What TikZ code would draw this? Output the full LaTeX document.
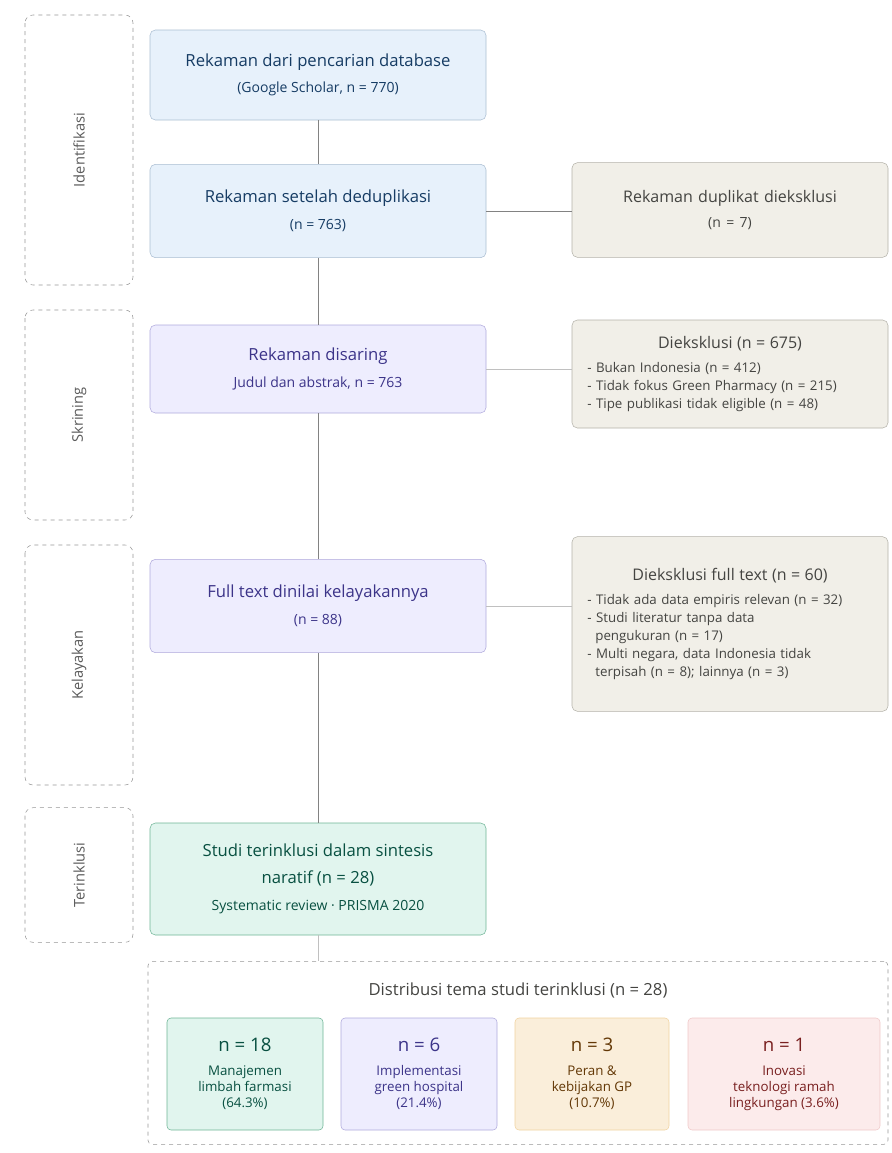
\documentclass[tikz,border=0pt]{standalone}
\usepackage{fontspec}
\setmainfont{Open Sans}
\usepackage{tikz}
\usetikzlibrary{positioning}
\definecolor{idfill}{RGB}{231,241,251}
\definecolor{idline}{RGB}{170,190,210}
\definecolor{idtext}{RGB}{22,60,100}
\definecolor{exfill}{RGB}{241,239,232}
\definecolor{exline}{RGB}{180,178,169}
\definecolor{extext}{RGB}{68,68,65}
\definecolor{scfill}{RGB}{238,237,254}
\definecolor{scline}{RGB}{175,169,220}
\definecolor{sctext}{RGB}{60,52,137}
\definecolor{infill}{RGB}{225,245,238}
\definecolor{inline}{RGB}{110,180,150}
\definecolor{intext}{RGB}{8,80,65}
\definecolor{orfill}{RGB}{250,238,218}
\definecolor{orline}{RGB}{240,210,160}
\definecolor{ortext}{RGB}{99,56,6}
\definecolor{rdfill}{RGB}{252,235,235}
\definecolor{rdline}{RGB}{240,200,200}
\definecolor{rdtext}{RGB}{121,31,31}
\definecolor{phaseline}{RGB}{150,150,150}
\definecolor{phasetext}{RGB}{90,90,90}
\definecolor{flow}{RGB}{130,130,130}
\newcommand{\subtxt}[1]{{\fontsize{10.5}{12}\selectfont #1}}

\begin{document}
\begin{tikzpicture}[x=0.75pt, y=-0.75pt,
        phase/.style={draw=phaseline, dashed, rounded corners=6pt, rotate=90, minimum height=81pt, font=\fontsize{11}{13}\selectfont, text=phasetext},
        stage/.style={draw=#1line, fill=#1fill, text=#1text, rounded corners=4pt, minimum width=252pt, align=center, font=\fontsize{12.5}{15}\selectfont},
        side/.style={draw=exline, fill=exfill, text=extext, rounded corners=4pt, minimum width=237pt, text width=214pt, font=\fontsize{10}{13.5}\selectfont},
        theme/.style={draw=#1line, fill=#1fill, text=#1text, rounded corners=3pt, minimum height=84pt, align=center, font=\fontsize{10}{12}\selectfont},
        flowline/.style={draw=flow, line width=0.6pt},
        sideline/.style={draw=flow!50, line width=0.6pt}
    ]
    \useasboundingbox (0,0) rectangle (892,1153);

    % phases
    \node (identifikasi) [phase, minimum width=202.5pt] at (79,150) {Identifikasi};
    \node (skrining) [phase, minimum width=157.5pt] at (79,415) {Skrining};
    \node (kelayakan) [phase, minimum width=180pt] at (79,665) {Kelayakan};
    \node (inklusi) [phase, minimum width=101pt] at (79,875) {Terinklusi};

    % main flow
    \node (records) [stage=id, minimum height=67.5pt] at (318,75) {Rekaman dari pencarian database\\[5pt]\subtxt{(Google Scholar, n = 770)}};
    \node (dedup) [stage=id, minimum height=70pt] at (318,211) {Rekaman setelah deduplikasi\\[5pt]\subtxt{(n = 763)}};
    \node (screened) [stage=sc, minimum height=66pt] at (318,369) {Rekaman disaring\\[5pt]\subtxt{Judul dan abstrak, n = 763}};
    \node (fulltext) [stage=sc, minimum height=70pt] at (318,606) {Full text dinilai kelayakannya\\[5pt]\subtxt{(n = 88)}};
    \node (included) [stage=in, minimum height=84pt] at (318,879) {Studi terinklusi dalam sintesis\\[5pt]naratif (n = 28)\\[5pt]\subtxt{Systematic review · PRISMA 2020}};

    % exclusions
    \node (duplicates) [side, minimum height=71pt, align=center, font=\fontsize{12}{14}\selectfont] at (730,210) {Rekaman duplikat dieksklusi\\[5pt]\subtxt{(n = 7)}};
    \node (excluded) [side, minimum height=81pt, align=left] at (730,374) {\centerline{\fontsize{12}{14}\selectfont Dieksklusi (n = 675)}\vspace{4pt}
        - Bukan Indonesia (n = 412)\\
        - Tidak fokus Green Pharmacy (n = 215)\\
        - Tipe publikasi tidak eligible (n = 48)};
    \node (ftexcluded) [side, minimum height=131pt, align=left] at (730,624) {\centerline{\fontsize{12}{14}\selectfont Dieksklusi full text (n = 60)}\vspace{4pt}
        - Tidak ada data empiris relevan (n = 32)\\
        - Studi literatur tanpa data\\
        \hspace*{0.6em}pengukuran (n = 17)\\
        - Multi negara, data Indonesia tidak\\
        \hspace*{0.6em}terpisah (n = 8); lainnya (n = 3)};

    % themes
    \node (themes) [draw=phaseline, dashed, rounded corners=3pt, minimum width=555pt, minimum height=137pt] at (518,1053) {};
    \node (themetitle) [text=extext, font=\fontsize{12.5}{15}\selectfont] at (518,990) {Distribusi tema studi terinklusi (n = 28)};
    \node (limbah) [theme=in, minimum width=117pt] at (245,1074) {{\fontsize{14}{16}\selectfont n = 18}\\[6pt]Manajemen\\limbah farmasi\\(64.3\%)};
    \node (hospital) [theme=sc, minimum width=117pt] at (419,1074) {{\fontsize{14}{16}\selectfont n = 6}\\[6pt]Implementasi\\green hospital\\(21.4\%)};
    \node (kebijakan) [theme=or, minimum width=115.5pt] at (592,1074) {{\fontsize{14}{16}\selectfont n = 3}\\[6pt]Peran \&\\kebijakan GP\\(10.7\%)};
    \node (inovasi) [theme=rd, minimum width=144pt] at (784,1074) {{\fontsize{14}{16}\selectfont n = 1}\\[6pt]Inovasi\\teknologi ramah\\lingkungan (3.6\%)};

    \draw[flowline] (records) -- (dedup);
    \draw[flowline] (dedup) -- (screened);
    \draw[flowline] (screened) -- (fulltext);
    \draw[flowline] (fulltext) -- (included);
    \draw[sideline] (included) -- (included |- themes.north);
    \draw[flowline] (dedup) -- (dedup -| duplicates.west);
    \draw[sideline] (screened) -- (screened -| excluded.west);
    \draw[sideline] (fulltext) -- (fulltext -| ftexcluded.west);
\end{tikzpicture}
\end{document}
